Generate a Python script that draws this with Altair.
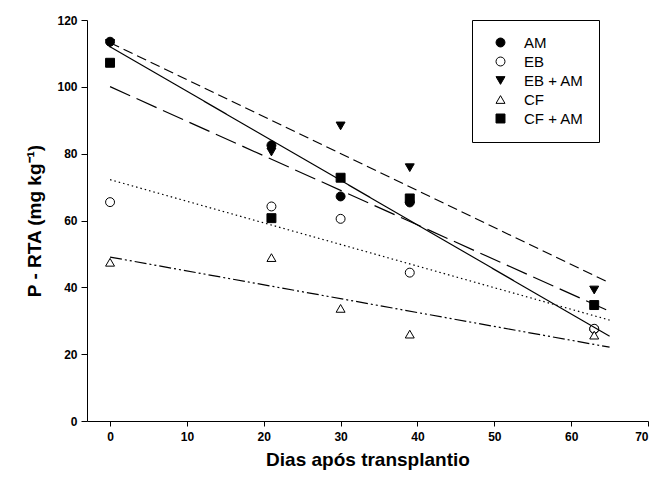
import altair as alt
import pandas as pd

days = [0, 21, 30, 39, 63]
am = [113.5, 82.5, 67.2, 65.4, 27.5]
eb = [65.5, 64.2, 60.5, 44.4, 27.6]
eb_am = [113.0, 80.5, 88.3, 75.8, 39.2]
cf = [47.5, 48.9, 33.7, 26.0, 25.7]
cf_am = [107.2, 60.7, 72.8, 66.6, 34.7]

series_names = ["AM", "EB", "EB + AM", "CF", "CF + AM"]
series_vals = [am, eb, eb_am, cf, cf_am]

rows = []
for name, vals in zip(series_names, series_vals):
    for d, v in zip(days, vals):
        rows.append({"dia": d, "valor": v, "trat": name})
df = pd.DataFrame(rows)

shapes = ["circle", "circle", "triangle-down", "triangle-up", "square"]
fills = ["black", "white", "black", "white", "black"]
strokes = ["black"] * 5
dashes = [[1, 0], [1.5, 3], [10, 5], [12, 3, 2, 3, 2, 3], [22, 7]]

font = "Liberation Sans"

xscale = alt.Scale(domain=[-3, 70], nice=False, zero=False)
yscale = alt.Scale(domain=[0, 120], nice=False)

xaxis = alt.Axis(values=[0, 10, 20, 30, 40, 50, 60, 70], title="Dias após transplantio",
                 grid=False, tickSize=5, labelPadding=5, titlePadding=8, titleFontSize=19)
yaxis = alt.Axis(values=[0, 20, 40, 60, 80, 100, 120], title="P - RTA (mg kg⁻¹)",
                 grid=False, tickSize=6, labelPadding=4, titlePadding=12, titleFontSize=19)

nb = "\u00a0" * 4
leg = alt.Legend(title=None, labelExpr=f"datum.label + '{nb}'")

points = alt.Chart(df).mark_point(size=80, opacity=1, strokeWidth=1, filled=True).encode(
    x=alt.X("dia:Q", scale=xscale, axis=xaxis),
    y=alt.Y("valor:Q", scale=yscale, axis=yaxis),
    shape=alt.Shape("trat:N", scale=alt.Scale(domain=series_names, range=shapes), legend=leg),
    fill=alt.Fill("trat:N", scale=alt.Scale(domain=series_names, range=fills), legend=leg),
    stroke=alt.Stroke("trat:N", scale=alt.Scale(domain=series_names, range=strokes), legend=leg),
)

line_layers = []
for name, dash in zip(series_names, dashes):
    line_layers.append(
        alt.Chart(df).transform_filter(
            alt.datum.trat == name
        ).transform_regression(
            "dia", "valor", extent=[0, 65]
        ).mark_line(color="black", strokeWidth=1.2, strokeDash=dash).encode(
            x=alt.X("dia:Q", scale=xscale),
            y=alt.Y("valor:Q", scale=yscale),
        )
    )

chart = alt.layer(points, *line_layers).properties(
    width=561, height=401,
    padding={"left": 87, "top": 20, "right": 8, "bottom": 68},
    autosize="none",
).configure_view(stroke=None).configure_axis(
    domainColor="black", tickColor="black", labelColor="black", titleColor="black",
    labelFont=font, titleFont=font, labelFontWeight="bold", titleFontWeight="bold",
    labelFontSize=12, domainWidth=1, tickWidth=1,
).configure_legend(
    orient="none", legendX=385, legendY=0, padding=15,
    strokeColor="black", fillColor="white",
    labelFont=font, labelFontSize=15, labelColor="black",
    symbolSize=80, rowPadding=3, labelOffset=16, symbolStrokeWidth=1,
    symbolOffset=6,
)

chart.save("out.html", embed_options={"renderer": "svg", "actions": False})
